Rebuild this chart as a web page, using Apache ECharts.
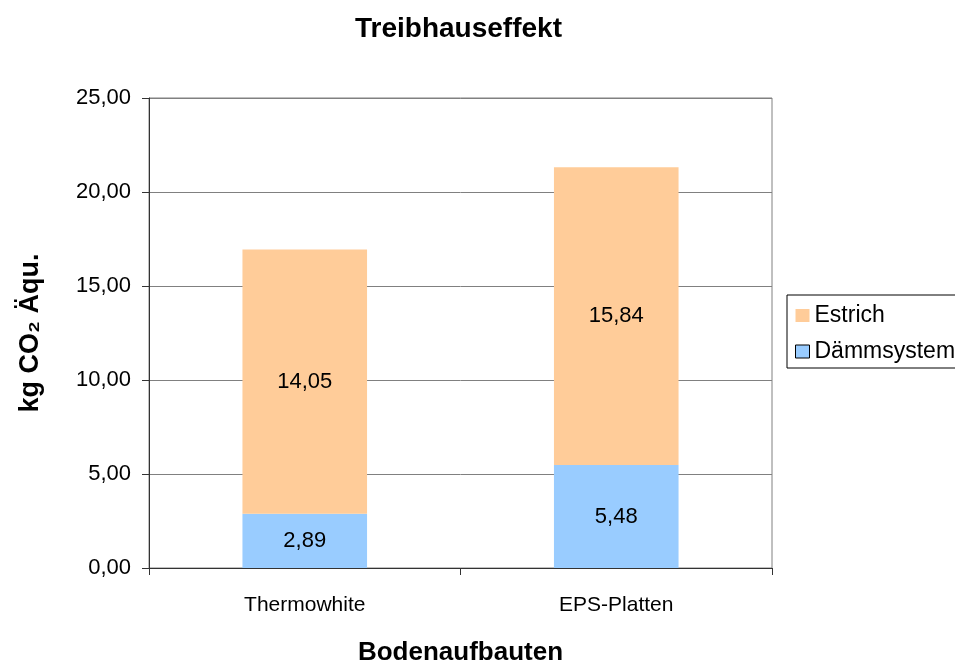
<!DOCTYPE html>
<html>
<head>
<meta charset="utf-8">
<script src="https://cdn.jsdelivr.net/npm/echarts@6/dist/echarts.min.js"></script>
<style>
  html, body { margin: 0; padding: 0; background: #fff; }
  #main { width: 955px; height: 662px; }
</style>
</head>
<body>
<div id="main"></div>
<script>
var categories = ['Thermowhite', 'EPS-Platten'];
var daemmsystem = [2.89, 5.48];
var estrich = [14.05, 15.84];
var yTicks = { min: 0, max: 25, interval: 5 };

function fmt(v) { return v.toFixed(2).replace('.', ','); }

var chart = echarts.init(document.getElementById('main'));
var font = 'Liberation Sans, Arial, sans-serif';

var option = {
  backgroundColor: '#fff',
  animation: false,
  textStyle: { fontFamily: font },
  title: {
    text: 'Treibhauseffekt',
    left: 350,
    top: 10,
    textStyle: { fontFamily: font, fontSize: 28, fontWeight: 'bold', color: '#000' }
  },
  grid: {
    left: 149, top: 98, right: 183, bottom: 94,
    outerBoundsMode: 'none',
    show: true, borderColor: '#808080', borderWidth: 1
  },
  legend: {
    orient: 'vertical',
    left: 787, top: 295,
    data: [
      { name: 'Estrich', itemStyle: { color: '#FFCC99', borderWidth: 0 } },
      { name: 'Dämmsystem', itemStyle: { color: '#99CCFF', borderColor: '#000', borderWidth: 1 } }
    ],
    itemWidth: 14, itemHeight: 13, itemGap: 13,
    padding: [9, 10, 5, 8],
    borderColor: '#000', borderWidth: 1,
    icon: 'rect',
    textStyle: { fontFamily: font, fontSize: 23, color: '#000' }
  },
  xAxis: {
    type: 'category',
    data: categories,
    name: 'Bodenaufbauten',
    nameLocation: 'middle',
    nameGap: 72,
    nameTextStyle: { fontFamily: font, fontSize: 26, fontWeight: 'bold', color: '#000' },
    axisLine: { lineStyle: { color: '#333', width: 1 } },
    axisTick: { show: true, length: 7, lineStyle: { color: '#333' } },
    axisLabel: { fontFamily: font, fontSize: 21, color: '#000', margin: 27 }
  },
  yAxis: {
    type: 'value',
    min: yTicks.min, max: yTicks.max, interval: yTicks.interval,
    name: 'kg CO₂ Äqu.',
    nameLocation: 'middle',
    nameRotate: 90,
    nameGap: 105,
    nameTextStyle: { fontFamily: font, fontSize: 27, fontWeight: 'bold', color: '#000' },
    axisLine: { show: true, lineStyle: { color: '#333', width: 1 } },
    axisTick: { show: true, length: 7, lineStyle: { color: '#333' } },
    axisLabel: { fontFamily: font, fontSize: 22, color: '#000', margin: 18, formatter: fmt },
    splitLine: { lineStyle: { color: '#808080', width: 1 } }
  },
  series: [
    {
      name: 'Dämmsystem', type: 'bar', stack: 'total',
      data: daemmsystem, barWidth: '40%',
      itemStyle: { color: '#99CCFF' },
      label: { show: true, position: 'inside', fontFamily: font, fontSize: 22, color: '#000',
        formatter: function (p) { return fmt(p.value); } }
    },
    {
      name: 'Estrich', type: 'bar', stack: 'total',
      data: estrich, barWidth: '40%',
      itemStyle: { color: '#FFCC99' },
      label: { show: true, position: 'inside', fontFamily: font, fontSize: 22, color: '#000',
        formatter: function (p) { return fmt(p.value); } }
    }
  ]
};

chart.setOption(option);
</script>
</body>
</html>
